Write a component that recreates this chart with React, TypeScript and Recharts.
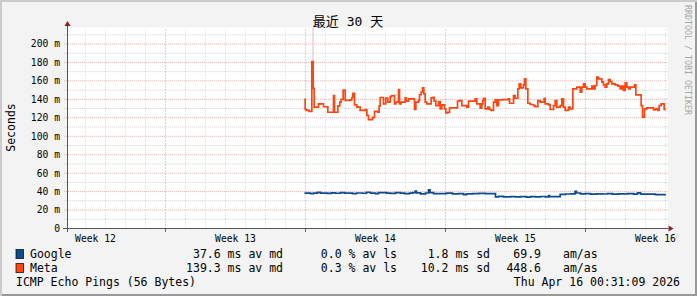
import React from "react";
import { LineChart, Line, XAxis, YAxis, CartesianGrid, ReferenceLine } from "recharts";

// time axis: hours since the start of the 30 day window (0..720)
const META_HOURS = [
  284.0, 285.2, 287.2, 290.0, 293.2, 294.8, 296.0, 301.2, 307.2, 312.4,
  319.2, 320.4, 324.4, 326.8, 328.4, 330.8, 333.2, 339.2, 341.2, 342.4,
  344.4, 347.2, 351.2, 357.2, 359.2, 361.2, 366.0, 368.4, 372.4, 374.0,
  375.2, 379.2, 382.0, 384.4, 387.2, 388.8, 392.4, 394.0, 397.2, 398.4,
  400.4, 405.2, 406.4, 409.2, 416.4, 418.0, 421.2, 422.4, 424.4, 426.0,
  427.6, 429.2, 431.2, 436.4, 438.4, 440.0, 442.0, 445.2, 447.2, 449.2,
  452.4, 454.0, 456.4, 458.4, 468.0, 470.4, 473.2, 479.2, 481.2, 489.2,
  491.2, 495.2, 497.2, 498.4, 499.2, 501.2, 504.4, 506.4, 508.4, 511.2,
  513.2, 515.2, 517.2, 522.0, 529.2, 530.4, 535.2, 537.2, 540.4, 542.0,
  544.0, 547.2, 548.4, 550.0, 552.4, 555.2, 559.2, 561.2, 564.4, 567.2,
  572.0, 573.2, 577.2, 579.2, 583.2, 585.2, 587.2, 591.2, 593.2, 595.2,
  597.2, 601.2, 603.2, 606.4, 611.2, 615.2, 617.2, 619.2, 621.2, 623.2,
  629.2, 631.2, 633.2, 635.2, 637.2, 641.2, 643.2, 645.2, 647.2, 649.2,
  651.2, 653.2, 657.2, 660.4, 663.2, 665.2, 667.2, 669.2, 671.2, 673.2,
  675.2, 680.4, 682.0, 688.4, 690.0, 692.4, 695.2, 703.2, 706.0, 708.4,
  710.0, 712.4, 716.0, 718.2,
];
const META_MS = [
  140, 129, 128, 127, 181, 152, 131.5, 135, 132, 126,
  144, 126, 133, 137, 140, 150, 139, 139.5, 142, 146.5,
  134, 131.5, 128, 129, 122.5, 118, 120.5, 127, 126, 133,
  142, 135, 141.5, 137, 143, 144, 135, 137, 150.6, 135,
  137, 141.6, 138, 140.5, 129, 137, 139, 145, 148, 152.4,
  146, 137, 135, 141.6, 142.3, 138, 133.3, 137.6, 129.7, 134,
  129.7, 125.3, 126, 130.8, 138, 138.7, 133.3, 131.5, 138, 140.5,
  135, 130.4, 135, 138.7, 141.2, 129.7, 131.5, 129, 128, 137,
  139.4, 133.3, 139.4, 139.8, 140.5, 135.8, 144, 141.2, 151.4, 156.8,
  152.4, 155.7, 162.2, 151.4, 135.8, 134.4, 133.3, 132.2, 138.7, 137,
  141.2, 135, 134, 129, 133.3, 138.7, 131.5, 133.3, 140.5, 131.5,
  128, 131.5, 129.7, 151.4, 153.2, 147.8, 153.2, 156.8, 153.2, 151.4,
  154.3, 151.4, 155, 164, 162.2, 158.6, 155.7, 153.2, 156.8, 161.5,
  159.3, 156.8, 155.7, 154.3, 151.4, 154.3, 149.6, 157.9, 153.2, 151.4,
  153.2, 155.7, 144.9, 133.3, 120.6, 129.7, 130.8, 128.6, 129.7, 128,
  133.3, 135, 129, 129,
];

const GOOGLE_HOURS = [
  284.4, 291.6, 295.2, 300.0, 303.6, 312.0, 316.8, 321.6, 327.6, 332.4,
  342.0, 346.8, 354.0, 358.8, 363.6, 369.6, 373.2, 382.8, 387.6, 393.6,
  399.6, 404.4, 410.4, 414.0, 417.2, 418.8, 423.6, 429.6, 433.2, 435.0,
  439.2, 447.6, 454.8, 462.0, 469.2, 475.2, 478.8, 486.0, 493.2, 501.6,
  512.4, 513.6, 517.2, 523.2, 531.6, 537.6, 543.6, 550.8, 555.6, 561.6,
  567.6, 573.6, 577.2, 578.4, 585.6, 591.2, 597.6, 603.6, 609.0, 610.8,
  615.6, 621.6, 627.6, 634.8, 642.0, 648.0, 654.0, 661.2, 668.4, 672.0,
  679.2, 684.0, 687.6, 693.6, 705.6, 718.2,
];
const GOOGLE_MS = [
  38.3, 37.8, 38.4, 39.2, 38.3, 38.0, 38.6, 38.2, 39.0, 38.3,
  37.8, 38.5, 38.2, 39.3, 38.4, 37.9, 38.8, 38.3, 38.0, 39.0,
  38.4, 37.8, 38.3, 38.8, 40.6, 38.6, 37.6, 38.5, 42.0, 38.8,
  37.8, 37.7, 38.3, 37.6, 37.9, 36.8, 37.5, 37.9, 38.0, 37.9,
  37.7, 34.3, 34.8, 34.2, 34.6, 34.2, 34.5, 34.1, 34.6, 34.2,
  34.7, 34.3, 35.8, 34.5, 34.6, 37.0, 37.4, 37.6, 40.2, 38.5,
  37.6, 37.9, 37.2, 37.6, 37.4, 37.8, 37.3, 37.6, 37.4, 37.8,
  37.3, 38.6, 37.3, 37.2, 36.8, 36.8,
];

// light vertical trace above the Meta spike
const SPIKE_HOUR = 294.6;
const SPIKE_FROM = 181;

const Y_MAX = 217.9;
const Y_TICKS = [0, 20, 40, 60, 80, 100, 120, 140, 160, 180, 200];
const Y_MINOR = [10, 30, 50, 70, 90, 110, 130, 150, 170, 190, 210];
const DAY_LINES = Array.from({ length: 30 }, (_, i) => 21.6 + 24 * i);
const WEEK_LINES = [117.6, 285.6, 453.6, 621.6];
const WEEK_LABEL_HOURS = [33.6, 201.6, 369.6, 537.6, 705.6];
const WEEK_LABELS = ["Week 12", "Week 13", "Week 14", "Week 15", "Week 16"];

const NAMES = ["Google", "Meta"];
const COLORS = ["#0d4c8f", "#ff4511"];
const MEDIAN = ["37.6", "139.3"];
const LOSS = ["0.0", "0.3"];
const SD = ["1.8", "10.2"];
const AMAS = ["69.9", "448.6"];

const MONO = "'DejaVu Sans Mono', monospace";
const MINOR_GRID = "#d2d2d2";
const MAJOR_GRID = "#ecacac";

const metaData = META_HOURS.map((h, i) => ({ h, ms: META_MS[i] }));
const googleData = GOOGLE_HOURS.map((h, i) => ({ h, ms: GOOGLE_MS[i] }));

const WeekTick = ({ x, y, payload }: any) => {
  const i = WEEK_LABEL_HOURS.indexOf(payload.value);
  if (i < 0) {
    return <line x1={x} x2={x} y1={y} y2={y + 3.5} stroke="#666" strokeWidth={1} />;
  }
  return (
    <text x={x} y={y + 13} textAnchor="middle" fontFamily={MONO} fontSize={9.7} fill="#000">
      {WEEK_LABELS[i]}
    </text>
  );
};

export default function App() {
  const legendRow = (i: number, y: number) => (
    <g key={i}>
      <rect x={16} y={y - 8.5} width={7.5} height={9} fill={COLORS[i]} stroke="#000" strokeOpacity={0.7} />
      <text x={30} y={y}>{NAMES[i]}</text>
      <text x={283} y={y} textAnchor="end">{MEDIAN[i]} ms av md</text>
      <text x={397} y={y} textAnchor="end">{LOSS[i]} % av ls</text>
      <text x={490} y={y} textAnchor="end">{SD[i]} ms sd</text>
      <text x={541} y={y} textAnchor="end">{AMAS[i]}</text>
      <text x={563} y={y}>am/as</text>
    </g>
  );

  return (
    <div
      style={{
        position: "absolute",
        left: 0,
        top: 0,
        width: 697,
        height: 296,
        background: "#f3f3f3",
        boxShadow: "inset 2px 2px 0 #cbcbcb, inset -2px -2px 0 #999999",
        overflow: "hidden",
      }}
    >
      <div style={{ position: "absolute", left: 0, top: 0 }}>
        <LineChart width={697} height={296} margin={{ top: 27.5, right: 29.5, bottom: 27.5, left: 7.5 }}>
          <CartesianGrid horizontal={false} vertical={false} fill="#ffffff" />
          <XAxis
            type="number"
            dataKey="h"
            domain={[0, 720]}
            allowDataOverflow
            ticks={[...WEEK_LINES, ...WEEK_LABEL_HOURS].sort((a, b) => a - b)}
            interval={0}
            tick={<WeekTick />}
            tickLine={false}
            axisLine={false}
            tickSize={0}
            tickMargin={0}
            height={40}
          />
          <YAxis
            type="number"
            domain={[0, Y_MAX]}
            allowDataOverflow
            ticks={Y_TICKS}
            interval={0}
            tickFormatter={(v: number) => (v === 0 ? "0" : `${v} m`)}
            tick={{ fontFamily: MONO, fontSize: 9.7, fill: "#000" }}
            tickLine={false}
            axisLine={false}
            tickSize={0}
            tickMargin={7.5}
            width={60}
          />
          {Y_MINOR.map((v) => (
            <ReferenceLine
              key={"ym" + v}
              segment={[{ x: -4, y: v }, { x: 720, y: v }]}
              ifOverflow="visible"
              stroke={MINOR_GRID}
              strokeDasharray="1 1"
            />
          ))}
          {DAY_LINES.map((h) => (
            <ReferenceLine key={"d" + h} x={h} stroke={MINOR_GRID} strokeDasharray="1 2" />
          ))}
          {Y_TICKS.slice(1).map((v) => (
            <ReferenceLine
              key={"y" + v}
              segment={[{ x: -4, y: v }, { x: 720, y: v }]}
              ifOverflow="visible"
              stroke={MAJOR_GRID}
              strokeDasharray="1 1"
            />
          ))}
          {WEEK_LINES.map((h) => (
            <ReferenceLine key={"w" + h} x={h} stroke={MAJOR_GRID} strokeDasharray="1 2" />
          ))}
          <ReferenceLine
            segment={[{ x: SPIKE_HOUR, y: SPIKE_FROM }, { x: SPIKE_HOUR, y: Y_MAX }]}
            stroke="#f7cccc"
            strokeWidth={1.5}
          />
          <Line
            data={googleData}
            dataKey="ms"
            type="stepAfter"
            stroke={COLORS[0]}
            strokeWidth={1.7}
            dot={false}
            isAnimationActive={false}
          />
          <Line
            data={metaData}
            dataKey="ms"
            type="stepAfter"
            stroke={COLORS[1]}
            strokeWidth={1.7}
            dot={false}
            isAnimationActive={false}
          />
        </LineChart>
      </div>

      <svg width={697} height={296} style={{ position: "absolute", left: 0, top: 0 }}>
        {/* axes with arrow heads */}
        <line x1={67.5} x2={67.5} y1={25} y2={232} stroke="#555" strokeWidth={1} />
        <polygon points="67.5,21 64.5,26 70.5,26" fill="#8b1f1f" />
        <line x1={63} x2={668} y1={228.5} y2={228.5} stroke="#555" strokeWidth={1} />
        <polygon points="673.5,228.5 668.5,225.5 668.5,231.5" fill="#8b1f1f" />

        <text x={348} y={26} textAnchor="middle" fontFamily={`${MONO}, 'Noto Sans CJK SC'`} fontSize={13} fill="#000">
          最近 30 天
        </text>
        <text
          transform="translate(15,127.5) rotate(-90)"
          textAnchor="middle"
          fontFamily={MONO}
          fontSize={11.5}
          fill="#000"
        >
          Seconds
        </text>
        <text transform="translate(685,5) rotate(90)" fontFamily={MONO} fontSize={8.3} fill="#a6a6a6">
          RRDTOOL / TOBI OETIKER
        </text>

        <g fontFamily={MONO} fontSize={11.5} fill="#000">
          {legendRow(0, 258)}
          {legendRow(1, 272)}
          <text x={16} y={286}>ICMP Echo Pings (56 Bytes)</text>
          <text x={680} y={286} textAnchor="end">Thu Apr 16 00:31:09 2026</text>
        </g>
      </svg>
    </div>
  );
}
